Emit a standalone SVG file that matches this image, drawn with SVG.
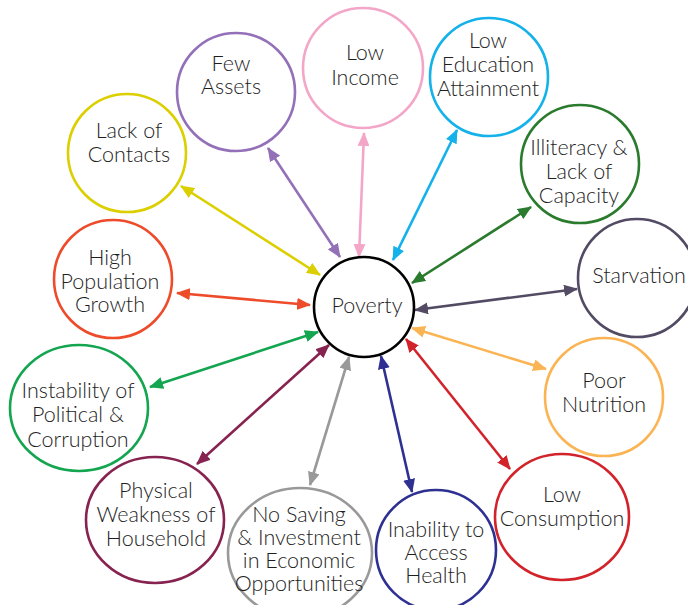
<svg xmlns="http://www.w3.org/2000/svg" width="688" height="605" viewBox="0 0 688 605">
<style>
.n{fill:#fff;stroke-width:2.6}
.t{font-family:Lato,"Open Sans","Liberation Sans",sans-serif;font-size:21.5px;font-weight:300;fill:#1e1e1e;text-anchor:middle}
.c{fill:none;stroke-width:2.6}
</style>
<defs>
<marker id="m1" viewBox="0 0 14 12" refX="13" refY="6" markerWidth="14" markerHeight="12" markerUnits="userSpaceOnUse" orient="auto-start-reverse"><path d="M0,0L14,6L0,12z" fill="#9370b8"/></marker>
<marker id="m2" viewBox="0 0 14 12" refX="13" refY="6" markerWidth="14" markerHeight="12" markerUnits="userSpaceOnUse" orient="auto-start-reverse"><path d="M0,0L14,6L0,12z" fill="#dccf00"/></marker>
<marker id="m3" viewBox="0 0 14 12" refX="13" refY="6" markerWidth="14" markerHeight="12" markerUnits="userSpaceOnUse" orient="auto-start-reverse"><path d="M0,0L14,6L0,12z" fill="#ee4b2b"/></marker>
<marker id="m4" viewBox="0 0 14 12" refX="13" refY="6" markerWidth="14" markerHeight="12" markerUnits="userSpaceOnUse" orient="auto-start-reverse"><path d="M0,0L14,6L0,12z" fill="#f4a6c8"/></marker>
<marker id="m5" viewBox="0 0 14 12" refX="13" refY="6" markerWidth="14" markerHeight="12" markerUnits="userSpaceOnUse" orient="auto-start-reverse"><path d="M0,0L14,6L0,12z" fill="#14b1ea"/></marker>
<marker id="m6" viewBox="0 0 14 12" refX="13" refY="6" markerWidth="14" markerHeight="12" markerUnits="userSpaceOnUse" orient="auto-start-reverse"><path d="M0,0L14,6L0,12z" fill="#2b7b2e"/></marker>
<marker id="m7" viewBox="0 0 14 12" refX="13" refY="6" markerWidth="14" markerHeight="12" markerUnits="userSpaceOnUse" orient="auto-start-reverse"><path d="M0,0L14,6L0,12z" fill="#524b63"/></marker>
<marker id="m8" viewBox="0 0 14 12" refX="13" refY="6" markerWidth="14" markerHeight="12" markerUnits="userSpaceOnUse" orient="auto-start-reverse"><path d="M0,0L14,6L0,12z" fill="#fbb454"/></marker>
<marker id="m9" viewBox="0 0 14 12" refX="13" refY="6" markerWidth="14" markerHeight="12" markerUnits="userSpaceOnUse" orient="auto-start-reverse"><path d="M0,0L14,6L0,12z" fill="#d2232a"/></marker>
<marker id="m10" viewBox="0 0 14 12" refX="13" refY="6" markerWidth="14" markerHeight="12" markerUnits="userSpaceOnUse" orient="auto-start-reverse"><path d="M0,0L14,6L0,12z" fill="#2e3192"/></marker>
<marker id="m11" viewBox="0 0 14 12" refX="13" refY="6" markerWidth="14" markerHeight="12" markerUnits="userSpaceOnUse" orient="auto-start-reverse"><path d="M0,0L14,6L0,12z" fill="#999999"/></marker>
<marker id="m12" viewBox="0 0 14 12" refX="13" refY="6" markerWidth="14" markerHeight="12" markerUnits="userSpaceOnUse" orient="auto-start-reverse"><path d="M0,0L14,6L0,12z" fill="#872350"/></marker>
<marker id="m13" viewBox="0 0 14 12" refX="13" refY="6" markerWidth="14" markerHeight="12" markerUnits="userSpaceOnUse" orient="auto-start-reverse"><path d="M0,0L14,6L0,12z" fill="#13a54f"/></marker>
</defs>
<rect width="688" height="605" fill="#fff"/>
<g id="connectors">
<line class="c" stroke="#9370b8" x1="268" y1="148" x2="340" y2="257" marker-start="url(#m1)" marker-end="url(#m1)"/>
<line class="c" stroke="#dccf00" x1="181" y1="186" x2="320" y2="275" marker-start="url(#m2)" marker-end="url(#m2)"/>
<line class="c" stroke="#ee4b2b" x1="177" y1="293" x2="310" y2="305" marker-start="url(#m3)" marker-end="url(#m3)"/>
<line class="c" stroke="#f4a6c8" x1="364" y1="133" x2="359" y2="257" marker-start="url(#m4)" marker-end="url(#m4)"/>
<line class="c" stroke="#14b1ea" x1="457" y1="130" x2="393" y2="260" marker-start="url(#m5)" marker-end="url(#m5)"/>
<line class="c" stroke="#2b7b2e" x1="531" y1="207" x2="412" y2="283" marker-start="url(#m6)" marker-end="url(#m6)"/>
<line class="c" stroke="#524b63" x1="577" y1="289" x2="415" y2="310" marker-start="url(#m7)" marker-end="url(#m7)"/>
<line class="c" stroke="#fbb454" x1="412" y1="328" x2="546" y2="369" marker-start="url(#m8)" marker-end="url(#m8)"/>
<line class="c" stroke="#d2232a" x1="406" y1="339" x2="510" y2="469" marker-start="url(#m9)" marker-end="url(#m9)"/>
<line class="c" stroke="#2e3192" x1="381" y1="356" x2="412" y2="492" marker-start="url(#m10)" marker-end="url(#m10)"/>
<line class="c" stroke="#999999" x1="349" y1="357" x2="310" y2="485" marker-start="url(#m11)" marker-end="url(#m11)"/>
<line class="c" stroke="#872350" x1="329" y1="345" x2="197" y2="464" marker-start="url(#m12)" marker-end="url(#m12)"/>
<line class="c" stroke="#13a54f" x1="318" y1="332" x2="150" y2="387" marker-start="url(#m13)" marker-end="url(#m13)"/>
</g>
<g id="poverty"><circle class="n" stroke="#000" cx="364" cy="307" r="50"/><text class="t" x="367" y="313">Poverty</text></g>
<g id="few-assets"><circle class="n" stroke="#9370b8" cx="236" cy="92" r="59"/><text class="t" x="231" y="71">Few</text><text class="t" x="231" y="94">Assets</text></g>
<g id="lack-contacts"><circle class="n" stroke="#dccf00" cx="127" cy="153" r="59"/><text class="t" x="129" y="138">Lack of</text><text class="t" x="129" y="162">Contacts</text></g>
<g id="high-population"><circle class="n" stroke="#ee4b2b" cx="113" cy="279" r="59"/><text class="t" x="110" y="265">High</text><text class="t" x="110" y="289">Population</text><text class="t" x="110" y="312">Growth</text></g>
<g id="low-income"><circle class="n" stroke="#f4a6c8" cx="363" cy="68" r="60"/><text class="t" x="365" y="60">Low</text><text class="t" x="365" y="85">Income</text></g>
<g id="low-education"><circle class="n" stroke="#14b1ea" cx="489" cy="77" r="59"/><text class="t" x="488" y="48">Low</text><text class="t" x="488" y="72">Education</text><text class="t" x="488" y="96">Attainment</text></g>
<g id="illiteracy"><circle class="n" stroke="#2b7b2e" cx="580" cy="164" r="59"/><text class="t" x="579" y="155">Illiteracy &amp;</text><text class="t" x="579" y="179">Lack of</text><text class="t" x="579" y="203">Capacity</text></g>
<g id="starvation"><circle class="n" stroke="#524b63" cx="637" cy="278" r="59"/><text class="t" x="639" y="283">Starvation</text></g>
<g id="poor-nutrition"><circle class="n" stroke="#fbb454" cx="604" cy="397" r="59"/><text class="t" x="604" y="388">Poor</text><text class="t" x="604" y="412">Nutrition</text></g>
<g id="low-consumption"><ellipse class="n" stroke="#d2232a" cx="562" cy="517" rx="67" ry="63"/><text class="t" x="562" y="502">Low</text><text class="t" x="562" y="526">Consumption</text></g>
<g id="inability"><circle class="n" stroke="#2e3192" cx="436" cy="550" r="60"/><text class="t" x="436" y="537">Inability to</text><text class="t" x="436" y="560">Access</text><text class="t" x="436" y="583">Health</text></g>
<g id="no-saving"><ellipse class="n" stroke="#999999" cx="300" cy="553" rx="72" ry="65"/><text class="t" x="299" y="522">No Saving</text><text class="t" x="299" y="545">&amp; Investment</text><text class="t" x="299" y="568">in Economic</text><text class="t" x="299" y="591">Opportunities</text></g>
<g id="physical-weakness"><ellipse class="n" stroke="#872350" cx="155" cy="520" rx="69" ry="63"/><text class="t" x="156" y="498">Physical</text><text class="t" x="156" y="522">Weakness of</text><text class="t" x="156" y="546">Household</text></g>
<g id="instability"><ellipse class="n" stroke="#13a54f" cx="79" cy="408" rx="69" ry="63"/><text class="t" x="78" y="398">Instability of</text><text class="t" x="78" y="422">Political &amp;</text><text class="t" x="78" y="447">Corruption</text></g>
</svg>
